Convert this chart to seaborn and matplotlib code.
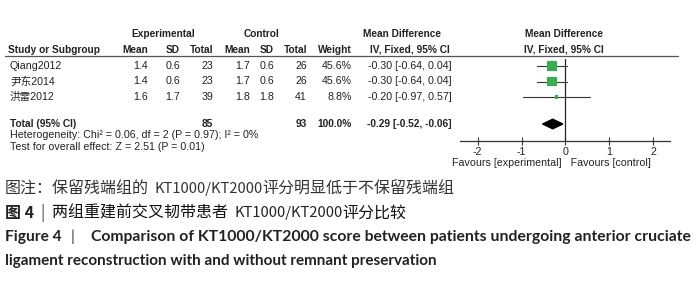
import matplotlib
matplotlib.use("Agg")
import matplotlib.pyplot as plt
import seaborn as sns
import pandas as pd
import numpy as np

# ---- data ----
studies = ["Qiang2012", "尹东2014", "洪雷2012"]
exp_mean = [1.4, 1.4, 1.6]
exp_sd = [0.6, 0.6, 1.7]
exp_total = [23, 23, 39]
ctl_mean = [1.7, 1.7, 1.8]
ctl_sd = [0.6, 0.6, 1.8]
ctl_total = [26, 26, 41]
weights = [45.6, 45.6, 8.8]
md = [-0.30, -0.30, -0.20]
ci_lo = [-0.64, -0.64, -0.97]
ci_hi = [0.04, 0.04, 0.57]
total_exp = 85
total_ctl = 93
total_md = -0.29
total_lo = -0.52
total_hi = -0.06
xticks = [-2, -1, 0, 1, 2]

sns.set_theme(style="white")
plt.rcParams['font.family'] = ['Liberation Sans', 'Noto Sans CJK SC', 'DejaVu Sans']

W, H = 700, 282
fig = plt.figure(figsize=(W / 100, H / 100), dpi=100)
fig.patch.set_facecolor("white")

# text layer in pixel coordinates
ax0 = fig.add_axes([0, 0, 1, 1])
ax0.set_xlim(0, W)
ax0.set_ylim(H, 0)
ax0.axis("off")

fs = 7.3
fsr = 7.65
tc = "#222222"
def T(x, y, s, ha="left", bold=False, size=None, color=tc, family=None, **kw):
    if size is None:
        size = fs if bold else fsr
    kws = dict(ha=ha, va="center", fontsize=size, color=color,
               fontweight="bold" if bold else "normal")
    if family is not None:
        kws["family"] = family
    kws.update(kw)
    ax0.text(x, y, s, **kws)

# headers
T(163, 34, "Experimental", ha="center", bold=True)
T(261, 34, "Control", ha="center", bold=True)
T(402, 34, "Mean Difference", ha="center", bold=True)
T(564, 34, "Mean Difference", ha="center", bold=True)
y_h = 50
T(8, y_h, "Study or Subgroup", bold=True)
col_r = [148, 180, 213, 250, 274, 307, 352]
hdrs = ["Mean", "SD", "Total", "Mean", "SD", "Total", "Weight"]
for x, h in zip(col_r, hdrs):
    T(x, y_h, h, ha="right", bold=True)
T(410, y_h, "IV, Fixed, 95% CI", ha="center", bold=True)
T(564, y_h, "IV, Fixed, 95% CI", ha="center", bold=True)
ax0.plot([5, 678], [56, 56], color="#555555", lw=0.9)

row_y = [66, 81.5, 97]
for i, s in enumerate(studies):
    y = row_y[i]
    T(10, y, s)
    vals = [f"{exp_mean[i]:.1f}", f"{exp_sd[i]:.1f}", f"{exp_total[i]}",
            f"{ctl_mean[i]:.1f}", f"{ctl_sd[i]:.1f}", f"{ctl_total[i]}",
            f"{weights[i]:.1f}%"]
    for x, v in zip(col_r, vals):
        T(x, y, v, ha="right")
    T(452, y, f"{md[i]:.2f} [{ci_lo[i]:.2f}, {ci_hi[i]:.2f}]", ha="right")

yt = 124
T(10, yt, "Total (95% CI)", bold=True)
T(213, yt, f"{total_exp}", ha="right", bold=True)
T(307, yt, f"{total_ctl}", ha="right", bold=True)
T(352, yt, "100.0%", ha="right", bold=True)
T(452, yt, f"{total_md:.2f} [{total_lo:.2f}, {total_hi:.2f}]", ha="right", bold=True)
T(10, 135.5, "Heterogeneity: Chi² = 0.06, df = 2 (P = 0.97); I² = 0%")
T(10, 147, "Test for overall effect: Z = 2.51 (P = 0.01)")
T(551, 163, "Favours [experimental]   Favours [control]", ha="center")

# forest plot axes
x_left_px, x_right_px = 460, 670
y_top_px, y_bot_px = 56, 141
axf = fig.add_axes([x_left_px / W, 1 - y_bot_px / H,
                    (x_right_px - x_left_px) / W, (y_bot_px - y_top_px) / H])
axf.set_xlim(-2.4, 2.38)
axf.set_ylim(y_bot_px, y_top_px)
axf.patch.set_alpha(0)
for sp in ["top", "left", "right"]:
    axf.spines[sp].set_visible(False)
axf.spines["bottom"].set_color("#333333")
axf.spines["bottom"].set_linewidth(0.9)
axf.set_xticks(xticks)
axf.set_xticklabels([str(t) for t in xticks], fontsize=fsr, color=tc)
axf.tick_params(axis="x", direction="inout", length=6, width=0.8,
                color="#333333", pad=1, bottom=True)
axf.set_yticks([])
axf.axvline(0, ymin=0, ymax=(y_bot_px - 59) / (y_bot_px - y_top_px),
            color="#222222", lw=0.9)

green = "#2fb34a"
for i in range(3):
    axf.plot([ci_lo[i], ci_hi[i]], [row_y[i], row_y[i]], color="#333333", lw=0.8)
df = pd.DataFrame({"md": md, "y": row_y, "w": weights})
sns.scatterplot(data=df, x="md", y="y", size="w", sizes=(5, 48),
                marker="s", color=green, edgecolor=green, linewidth=0,
                legend=False, ax=axf, zorder=3)
axf.set_xlabel("")
axf.set_ylabel("")
dh = 4.8
axf.fill([total_lo, total_md, total_hi, total_md],
         [yt, yt - dh, yt, yt + dh], color="black", zorder=3)

# captions
cjk = ['Noto Sans CJK SC', 'DejaVu Sans']
cs = 11.5
T(5, 189, "图注：保留残端组的", size=cs, family=cjk, color="#333333")
T(154, 189, "KT1000/KT2000", size=cs * 0.92, family=cjk, color="#333333")
T(262, 189, "评分明显低于不保留残端组", size=cs, family=cjk, color="#333333")

T(5, 213, "图 4", size=cs, family=cjk, bold=True, color="#222222")
T(43, 213, "|", size=cs, family=cjk, color="#444444", ha="center")
T(52, 213, "两组重建前交叉韧带患者", size=cs, family=cjk, color="#111111")
T(234, 213, "KT1000/KT2000", size=cs * 0.92, family=cjk, color="#222222")
T(342, 213, "评分比较", size=cs, family=cjk, color="#111111")

ef = ["Lato", "Open Sans", "DejaVu Sans"]
T(5, 237, "Figure 4", size=11.2, family=ef, bold=True, color="#222222")
T(73, 237, "|", size=11.2, family=ef, color="#444444", ha="center")
T(91, 237, "Comparison of KT1000/KT2000 score between patients undergoing anterior cruciate",
  size=11.3, family=ef, bold=True, color="#222222")
T(5, 261, "ligament reconstruction with and without remnant preservation",
  size=11.0, family=ef, bold=True, color="#222222")

fig.savefig("out.png", dpi=100, facecolor="white")
